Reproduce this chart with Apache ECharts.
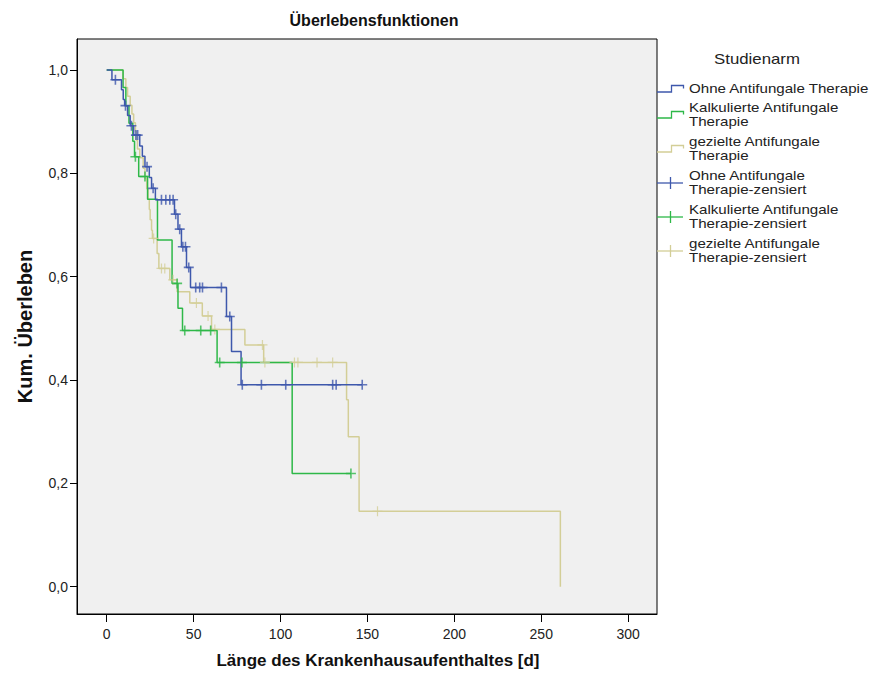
<!DOCTYPE html>
<html>
<head>
<meta charset="utf-8">
<script src="https://cdn.jsdelivr.net/npm/echarts@6/dist/echarts.min.js"></script>
<style>html,body{margin:0;padding:0;background:#fff}#c{width:873px;height:683px}</style>
</head>
<body>
<div id="c"></div>
<script>
// ---------- data ----------
const groupNames = ['Ohne Antifungale Therapie', 'Kalkulierte Antifungale Therapie', 'gezielte Antifungale Therapie'];
const legendLabels = [
  ['Ohne Antifungale Therapie'],
  ['Kalkulierte Antifungale', 'Therapie'],
  ['gezielte Antifungale', 'Therapie'],
  ['Ohne Antifungale', 'Therapie-zensiert'],
  ['Kalkulierte Antifungale', 'Therapie-zensiert'],
  ['gezielte Antifungale', 'Therapie-zensiert']
];
const xTicks = [0, 50, 100, 150, 200, 250, 300];
const yTicks = [0, 0.2, 0.4, 0.6, 0.8, 1.0];

// Ohne Antifungale Therapie
const ohneTimes = [0, 3, 8.5, 9.5, 10.3, 12, 13.5, 15.5, 19, 20.5, 22, 24.5, 25.8, 28, 39, 41, 43, 45.9, 48.2, 68.9, 71.8, 77.3, 147];
const ohneSurv  = [1, 0.981, 0.962, 0.943, 0.931, 0.912, 0.892, 0.874, 0.853, 0.833, 0.813, 0.792, 0.771, 0.749, 0.721, 0.692, 0.658, 0.618, 0.579, 0.523, 0.455, 0.391, 0.391];
const ohneCensored = [5, 10.8, 14.2, 16.8, 17.8, 23.2, 26.7, 31.5, 34, 36.3, 38.2, 39.7, 42, 43.8, 45.3, 47.2, 51.2, 53.5, 55.1, 66, 70.8, 78, 89, 103, 130, 132, 147];

// Kalkulierte Antifungale Therapie
const kalkTimes = [0, 9.4, 11, 12.8, 15, 16, 18.4, 23.5, 29.2, 37.6, 41, 43.6, 63.5, 106.7, 140.5];
const kalkSurv  = [1, 0.966, 0.931, 0.897, 0.862, 0.832, 0.794, 0.75, 0.671, 0.587, 0.539, 0.496, 0.434, 0.219, 0.219];
const kalkCensored = [16.5, 22, 40.5, 44.9, 54.1, 59.8, 65, 77.8, 140.5];

// gezielte Antifungale Therapie
const gezTimes = [0, 9.4, 11, 12, 13.5, 14.5, 15.5, 16.5, 17, 17.7, 19, 21, 22, 23, 23.8, 24.5, 25, 25.8, 26.3, 29, 30, 36.3, 40.5, 47.8, 55, 60.3, 79.5, 90.3, 138, 139, 145.2, 261, 261];
const gezSurv  = [1, 0.983, 0.966, 0.949, 0.932, 0.915, 0.898, 0.881, 0.864, 0.847, 0.83, 0.81, 0.79, 0.77, 0.75, 0.73, 0.71, 0.69, 0.674, 0.645, 0.616, 0.594, 0.571, 0.549, 0.524, 0.498, 0.468, 0.434, 0.362, 0.29, 0.146, 0.146, 0];
const gezCensored = [27, 31.5, 33.4, 38.2, 51.6, 58.3, 62.2, 89.6, 91, 108, 110, 121, 130, 155.8];

// ---------- styling ----------
const colors = ['#3E58AC', '#2EB848', '#D3CE97'];
const FONT = '"Liberation Sans", Arial, sans-serif';

const groups = [
  {times: ohneTimes, surv: ohneSurv, cens: ohneCensored},
  {times: kalkTimes, surv: kalkSurv, cens: kalkCensored},
  {times: gezTimes, surv: gezSurv, cens: gezCensored}
];

// value of the Kaplan-Meier step function at time t
function stepValue(times, surv, t) {
  let v = surv[0];
  for (let i = 0; i < times.length; i++) { if (times[i] <= t) v = surv[i]; }
  return v;
}

const plusPath = 'path://M0,5L10,5M5,0L5,10';
const series = [];
groups.forEach((g, k) => {
  series.push({
    name: groupNames[k], type: 'line', step: 'end', symbol: 'none',
    data: g.times.map((t, i) => [t, g.surv[i]]),
    lineStyle: {color: colors[k], width: 1.5},
    itemStyle: {color: colors[k]},
    z: 3 - k
  });
});
groups.forEach((g, k) => {
  series.push({
    name: groupNames[k] + '-zensiert', type: 'scatter',
    symbol: plusPath, symbolSize: 10,
    data: g.cens.map(t => [t, stepValue(g.times, g.surv, t)]),
    itemStyle: {color: 'rgba(0,0,0,0)', borderColor: colors[k], borderWidth: k === 2 ? 1.2 : 1.6},
    z: 6 - k
  });
});

// legend drawn with graphic elements
const legendX = 657, textX = 689;
const legendCenters = [89, 115, 149, 183, 217, 251];
const lineGap = 14;
const graphics = [{
  type: 'text', x: 757, y: 59, scaleX: 1.2,
  style: {text: 'Studienarm', font: '14px ' + FONT, fill: '#222', textAlign: 'center', textVerticalAlign: 'middle'}
}];
legendLabels.forEach((lines, i) => {
  const c = legendCenters[i];
  const col = colors[i % 3];
  if (i < 3) {
    graphics.push({
      type: 'polyline',
      shape: {points: [[legendX, c + 3], [legendX + 14.5, c + 3], [legendX + 14.5, c - 3.5], [legendX + 26.5, c - 3.5], [legendX + 26.5, c - 0.5]]},
      style: {stroke: col, lineWidth: 1.3, fill: null}
    });
  } else {
    graphics.push({type: 'line', shape: {x1: legendX, y1: c, x2: legendX + 26, y2: c}, style: {stroke: col, lineWidth: 1.3}});
    graphics.push({type: 'line', shape: {x1: legendX + 13.5, y1: c - 6, x2: legendX + 13.5, y2: c + 6}, style: {stroke: col, lineWidth: 1.3}});
  }
  const y0 = c - (lines.length - 1) * lineGap / 2;
  lines.forEach((ln, j) => {
    graphics.push({
      type: 'text', x: textX, y: y0 + j * lineGap, scaleX: 1.26,
      style: {text: ln, font: '12px ' + FONT, fill: '#222', textAlign: 'left', textVerticalAlign: 'middle'}
    });
  });
});

const chart = echarts.init(document.getElementById('c'), null, {renderer: 'svg'});
chart.setOption({
  animation: false,
  backgroundColor: '#ffffff',
  textStyle: {fontFamily: FONT},
  title: {
    text: 'Überlebensfunktionen', left: 369, top: 7, textAlign: 'center',
    textStyle: {fontSize: 16, fontWeight: 'bold', color: '#111', fontFamily: FONT}
  },
  grid: {left: 77, top: 39, width: 580, height: 575, show: true, backgroundColor: '#F0F0F0', borderColor: '#000', borderWidth: 1, containLabel: false},
  xAxis: {
    type: 'value', min: -17.1, max: 316.6,
    name: 'Länge des Krankenhausaufenthaltes [d]', nameLocation: 'middle', nameGap: 38,
    nameTextStyle: {fontSize: 17, fontWeight: 'bold', color: '#111', fontFamily: FONT, padding: [0, 0, 0, 22]},
    axisLine: {show: true, onZero: false, lineStyle: {color: '#000', width: 1}},
    axisTick: {show: true, customValues: xTicks, length: 8, lineStyle: {color: '#000'}},
    axisLabel: {customValues: xTicks, color: '#222', fontSize: 14, margin: 13, fontFamily: FONT},
    splitLine: {show: false}
  },
  yAxis: {
    type: 'value', min: -0.0528, max: 1.06,
    name: 'Kum. Überleben', nameLocation: 'middle', nameGap: 42,
    nameTextStyle: {fontSize: 20, fontWeight: 'bold', color: '#111', fontFamily: FONT},
    axisLine: {show: true, onZero: false, lineStyle: {color: '#000', width: 1}},
    axisTick: {show: true, customValues: yTicks, length: 7, lineStyle: {color: '#000'}},
    axisLabel: {customValues: yTicks, color: '#222', fontSize: 14, margin: 9, fontFamily: FONT,
      formatter: v => v.toFixed(1).replace('.', ',')},
    splitLine: {show: false}
  },
  graphic: graphics,
  series: series
});
</script>
</body>
</html>
